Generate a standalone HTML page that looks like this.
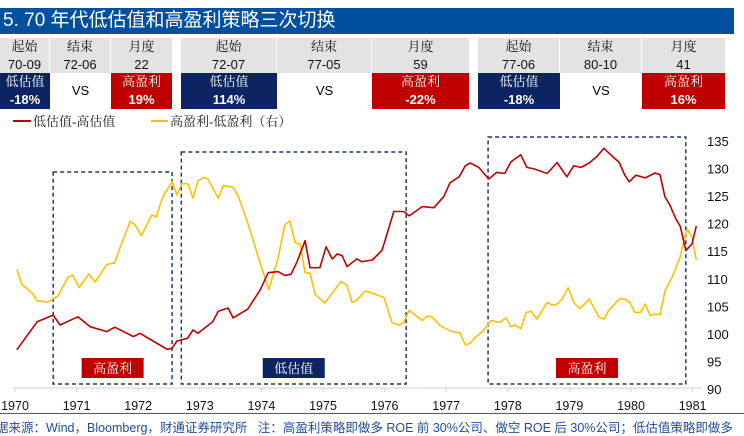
<!DOCTYPE html>
<html><head><meta charset="utf-8"><style>
body{margin:0;width:744px;height:436px;overflow:hidden;background:#fff;font-family:"Liberation Sans","Noto Sans CJK SC",sans-serif;position:relative}
.a{position:absolute;box-sizing:border-box;text-align:center;white-space:nowrap}
.g{background:#e3e3e3;color:#111;font-size:13px}
.b{background:#0c2461;color:#fff;font-size:13px}
.r{background:#c00000;color:#fff;font-size:13px}
.serif{font-family:"Liberation Serif","Noto Serif CJK SC",serif}
</style></head><body>
<div class="a" style="left:0;top:8px;width:734px;height:26px;background:#0050a0;color:#fff;text-align:left;font-size:19px;line-height:26px;padding-left:3px">5. 70 年代低估值和高盈利策略三次切换</div>
<div id="tables"></div>
<svg id="chart" width="744" height="436" style="position:absolute;left:0;top:0"></svg>
<div class="a" style="left:0;top:413px;width:744px;height:1px;background:#2e63a8"></div>
<div class="a" style="left:-4px;top:417px;font-size:12.5px;color:#1f4e9a;text-align:left">据来源：Wind，Bloomberg，财通证券研究所&nbsp;&nbsp;&nbsp;注：高盈利策略即做多 ROE 前 30%公司、做空 ROE 后 30%公司；低估值策略即做多</div>
<script>
const tableStarts=["70-09","72-07","77-06"];
const tableEnds=["72-06","77-05","80-10"];
const tableMonths=["22","59","41"];
const lowValRet=["-18%","114%","-18%"];
const highProfRet=["19%","-22%","16%"];
const tableCols=[[0,50,111,172],[181,277,372,469],[478,560,642,725]];
const T=document.getElementById('tables');
function cell(cls,x,y,w,h,html,name){const d=document.createElement('div');d.className='a '+cls;d.style.cssText=`left:${x}px;top:${y}px;width:${w}px;height:${h}px;line-height:${h}px;font-size:13px`;d.innerHTML=html;


T.appendChild(d);}
tableCols.forEach((c,i)=>{
 cell('g serif',c[0],38,c[1]-c[0]-1,18,'起始','table-header-start');
 cell('g serif',c[1],38,c[2]-c[1]-1,18,'结束','table-header-end');
 cell('g serif',c[2],38,c[3]-c[2],18,'月度','table-header-months');
 cell('g',c[0],56,c[1]-c[0]-1,17,tableStarts[i],'table-start-value');
 cell('g',c[1],56,c[2]-c[1]-1,17,tableEnds[i],'table-end-value');
 cell('g',c[2],56,c[3]-c[2],17,tableMonths[i],'table-months-value');
 cell('b serif',c[0],73,c[1]-c[0],18,'低估值','low-valuation-label');
 cell('b',c[0],91,c[1]-c[0],18,'<b>'+lowValRet[i]+'</b>','low-valuation-return');
 cell('',c[1],73,c[2]-c[1],36,'VS','vs-label');
 cell('r serif',c[2],73,c[3]-c[2],18,'高盈利','high-profit-label');
 cell('r',c[2],91,c[3]-c[2],18,'<b>'+highProfRet[i]+'</b>','high-profit-return');
});

const redT=[1970.03,1970.36,1970.62,1970.73,1971.02,1971.22,1971.49,1971.62,1971.92,1972.03,1972.24,1972.47,1972.55,1972.63,1972.80,1972.89,1972.97,1973.21,1973.30,1973.46,1973.54,1973.78,1973.98,1974.11,1974.27,1974.38,1974.48,1974.58,1974.71,1974.79,1974.95,1975.05,1975.15,1975.23,1975.31,1975.39,1975.55,1975.63,1975.80,1975.96,1976.15,1976.31,1976.40,1976.61,1976.80,1976.96,1977.06,1977.21,1977.31,1977.39,1977.53,1977.69,1977.82,1977.95,1978.05,1978.21,1978.31,1978.44,1978.64,1978.80,1978.96,1979.07,1979.19,1979.32,1979.45,1979.56,1979.69,1979.81,1979.90,1979.97,1980.08,1980.23,1980.39,1980.47,1980.55,1980.63,1980.73,1980.80,1980.89,1980.99,1981.06];
const redV=[97.1,102.2,103.4,101.6,103.1,101.3,100.4,101.2,99.5,100.1,98.7,97.2,97.4,98.7,99.2,100.7,100.1,102.2,104.1,104.7,102.9,104.5,108.0,111.1,111.3,110.6,110.8,113.1,116.9,112.0,112.0,115.8,113.6,114.5,114.2,112.2,113.6,113.1,113.4,115.2,122.2,122.2,121.4,123.1,122.9,124.9,127.4,128.5,130.5,131.0,130.2,128.1,129.3,129.1,131.2,132.5,130.2,129.9,129.1,131.1,128.5,130.5,130.2,131.0,132.2,133.7,132.3,131.1,128.8,127.6,128.8,128.3,129.2,128.9,124.9,123.4,120.8,119.5,115.1,116.3,119.6];
const yelT=[1970.03,1970.11,1970.28,1970.36,1970.54,1970.70,1970.86,1970.94,1971.04,1971.20,1971.30,1971.49,1971.62,1971.70,1971.87,1971.95,1972.05,1972.22,1972.29,1972.40,1972.55,1972.63,1972.71,1972.81,1972.89,1972.97,1973.07,1973.13,1973.30,1973.38,1973.54,1973.62,1973.78,1973.94,1974.12,1974.27,1974.38,1974.46,1974.55,1974.63,1974.71,1974.79,1974.87,1975.03,1975.29,1975.39,1975.47,1975.55,1975.68,1975.80,1975.91,1975.99,1976.12,1976.23,1976.31,1976.40,1976.61,1976.69,1976.77,1976.90,1977.09,1977.22,1977.31,1977.39,1977.47,1977.58,1977.73,1977.87,1977.97,1978.05,1978.12,1978.21,1978.30,1978.38,1978.47,1978.64,1978.72,1978.80,1978.88,1978.98,1979.07,1979.16,1979.22,1979.32,1979.48,1979.56,1979.64,1979.81,1979.90,1979.98,1980.06,1980.15,1980.23,1980.31,1980.39,1980.47,1980.55,1980.67,1980.80,1980.86,1980.91,1980.99,1981.06];
const yelV=[111.7,109.0,107.4,106.0,105.8,106.9,110.3,110.6,108.4,110.9,109.4,112.6,112.9,115.5,120.4,119.8,117.8,121.6,121.2,124.9,127.6,125.2,127.3,127.2,124.6,127.8,128.4,128.1,124.6,126.9,126.6,125.1,120.1,114.3,108.0,113.7,119.8,120.5,116.5,116.3,111.1,111.0,107.2,105.6,109.5,108.8,105.7,106.1,107.8,107.4,106.9,106.6,102.0,101.6,102.0,104.3,102.4,103.2,103.1,101.5,100.4,100.2,98.0,98.3,99.4,100.3,102.4,102.1,102.9,101.3,101.6,100.9,103.9,104.1,102.7,105.7,105.2,105.4,106.3,108.4,105.7,104.6,105.1,106.3,103.0,102.7,104.3,106.3,106.3,105.7,103.9,103.9,105.4,103.3,103.6,103.5,107.7,110.4,114.0,117.0,119.0,117.6,113.4];
const yearTicks=[1970,1971,1972,1973,1974,1975,1976,1977,1978,1979,1980,1981];
const rightTicks=[90,95,100,105,110,115,120,125,130,135];
const periods=[[1970.62,1972.55],[1972.70,1976.35],[1977.68,1980.89]];
const periodLabels=["高盈利","低估值","高盈利"];

const X=t=>15+(t-1970)*61.6;
const Y=v=>141+(135-v)*5.51;
const boxTops=[172,152,137];
const S=document.getElementById('chart');const NS='http://www.w3.org/2000/svg';
function el(tag,attrs,name,txt){const e=document.createElementNS(NS,tag);for(const k in attrs)e.setAttribute(k,attrs[k]);


if(txt!==undefined)e.textContent=txt;S.appendChild(e);return e;}
el('line',{x1:13,y1:121,x2:31,y2:121,stroke:'#c00000','stroke-width':2},'legend-red-swatch');
el('text',{x:33,y:126,'font-size':13,fill:'#222','font-family':'"Liberation Serif","Noto Serif CJK SC",serif'},'legend-red-label','低估值-高估值');
el('line',{x1:151,y1:121,x2:168,y2:121,stroke:'#ffc000','stroke-width':2},'legend-yellow-swatch');
el('text',{x:170,y:126,'font-size':13,fill:'#222','font-family':'"Liberation Serif","Noto Serif CJK SC",serif'},'legend-yellow-label','高盈利-低盈利（右）');
el('line',{x1:13,y1:388,x2:701,y2:388,stroke:'#d0d0d0','stroke-width':1},'x-axis-line');
yearTicks.forEach(y=>{el('line',{x1:X(y),y1:388,x2:X(y),y2:392,stroke:'#d0d0d0'},'x-tick');
el('text',{x:X(y),y:410,'font-size':12.5,'text-anchor':'middle',fill:'#111'},'x-tick-label',y);});
rightTicks.forEach(v=>el('text',{x:707,y:Y(v)+5,'font-size':13,fill:'#111'},'right-axis-label',v));
periods.forEach((p,i)=>{const x1=X(p[0]),x2=X(p[1]);
el('rect',{x:x1,y:boxTops[i],width:x2-x1,height:384-boxTops[i],fill:'none',stroke:'#1f3a6e','stroke-width':1.5,'stroke-dasharray':'4,3'},'period-box');
const cx=(x1+x2)/2;const col=periodLabels[i]==='高盈利'?'#c00000':'#0c2461';
el('rect',{x:cx-31,y:358,width:62,height:20,fill:col},'period-label-bg');
el('text',{x:cx,y:373,'font-size':13,'text-anchor':'middle',fill:'#fff','font-family':'"Liberation Serif","Noto Serif CJK SC",serif'},'period-label',periodLabels[i]);});
function path(T,V,c,name){el('path',{d:T.map((t,i)=>(i?'L':'M')+X(t).toFixed(1)+','+Y(V[i]).toFixed(1)).join(''),fill:'none',stroke:c,'stroke-width':1.6,'stroke-linejoin':'round'},name);}
path(yelT,yelV,'#ffc000','series-high-minus-low-profit');
path(redT,redV,'#c00000','series-low-minus-high-valuation');
</script>
</body></html>
